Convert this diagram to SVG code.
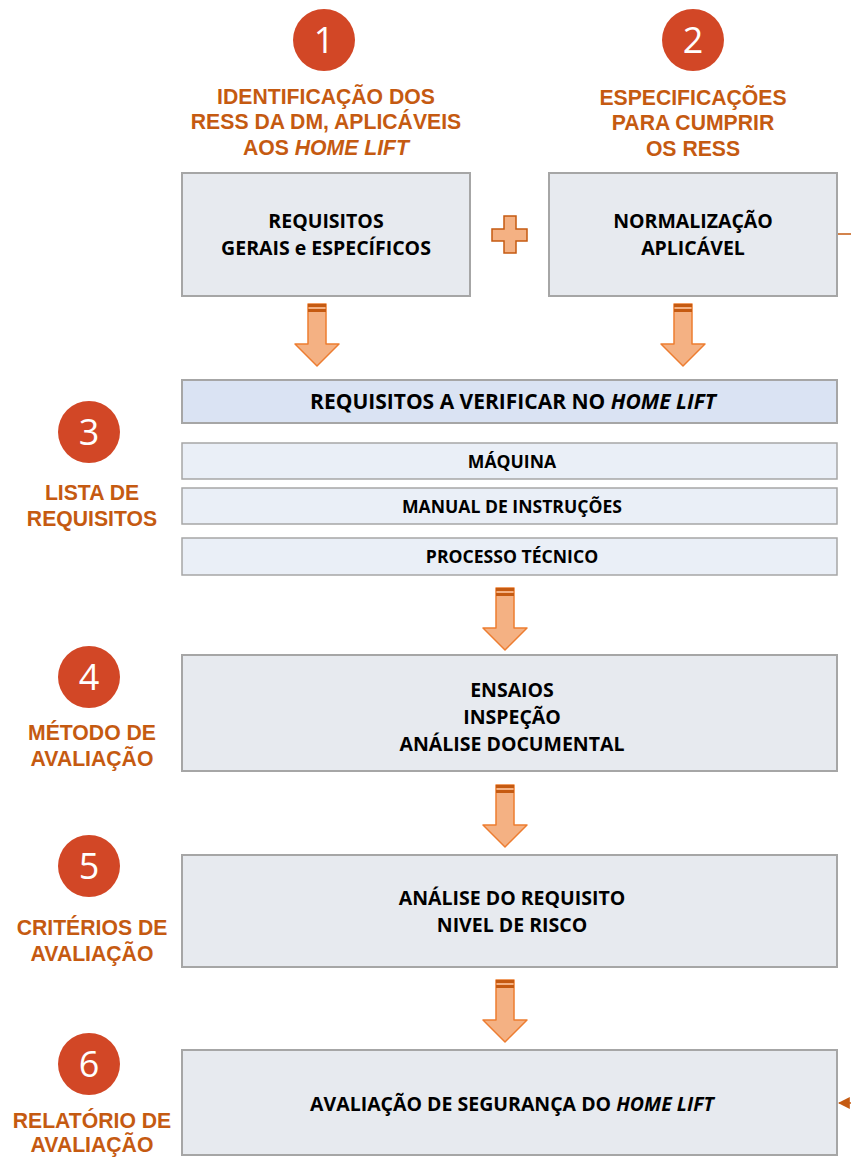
<svg xmlns="http://www.w3.org/2000/svg" width="851" height="1157" viewBox="0 0 851 1157">
<defs>
<style>
.box{fill:#e7eaef;stroke:#a6a6a6;stroke-width:2}
.hdr{fill:#dae3f3;stroke:#a6a6a6;stroke-width:2}
.row{fill:#eaeff7;stroke:#a6a6a6;stroke-width:1.5}
.bt{font-family:"Open Sans","Liberation Sans",sans-serif;font-weight:bold;font-size:19.5px;fill:#000;text-anchor:middle}
.rt{font-family:"Open Sans","Liberation Sans",sans-serif;font-weight:bold;font-size:17.6px;fill:#000;text-anchor:middle}
.ht{font-family:"Open Sans","Liberation Sans",sans-serif;font-weight:bold;font-size:21px;fill:#000;text-anchor:middle}
.ol{font-family:"Liberation Sans",Arial,sans-serif;font-weight:bold;font-size:21.2px;fill:#c55a11;text-anchor:middle}
.cn{fill:#d24726}
.ct{font-family:"Open Sans","Liberation Sans",sans-serif;font-size:36px;fill:#fff;text-anchor:middle}
.arr{fill:#f4b183;stroke:#ed7d31;stroke-width:1.5;stroke-linejoin:round}
.band{fill:#c55a11}
</style>
<g id="barrow">
<polygon class="arr" points="-9,0 9,0 9,40 22,40 0,62 -22,40 -9,40"/>
<rect class="band" x="-9" y="0" width="18" height="3"/>
<rect class="band" x="-9" y="5" width="18" height="3"/>
</g>
<marker id="mk" viewBox="0 0 10 10" refX="9" refY="5" markerWidth="8" markerHeight="8" orient="auto"><path d="M0,0 L10,5 L0,10 z" fill="#c55a11"/></marker>
</defs>
<rect width="851" height="1157" fill="#fff"/>

<g id="step1">
<circle class="cn" cx="324" cy="40" r="31"/>
<text class="ct" x="324" y="53">1</text>
<text class="ol" x="326" y="104">IDENTIFICAÇÃO DOS</text>
<text class="ol" x="326" y="129">RESS DA DM, APLICÁVEIS</text>
<text class="ol" x="326" y="155">AOS <tspan font-style="italic">HOME LIFT</tspan></text>
</g>
<g id="step2">
<circle class="cn" cx="693" cy="40" r="31"/>
<text class="ct" x="693" y="53">2</text>
<text class="ol" x="693" y="105">ESPECIFICAÇÕES</text>
<text class="ol" x="693" y="130">PARA CUMPRIR</text>
<text class="ol" x="693" y="156">OS RESS</text>
</g>
<g id="box1">
<rect class="box" x="182" y="173" width="288" height="123"/>
<text class="bt" x="326" y="228">REQUISITOS</text>
<text class="bt" x="326" y="255">GERAIS e ESPECÍFICOS</text>
</g>
<g id="plus">
<path d="M504,216 h12 v13 h11 v12 h-11 v12 h-12 v-12 h-12 v-12 h12 z" fill="#f4b183" stroke="#c55a11" stroke-width="1.5"/>
</g>
<g id="box2">
<rect class="box" x="549" y="173" width="288" height="123"/>
<text class="bt" x="693" y="228">NORMALIZAÇÃO</text>
<text class="bt" x="693" y="255">APLICÁVEL</text>
</g>

<g id="step3">
<circle class="cn" cx="89" cy="432" r="31"/>
<text class="ct" x="89" y="445">3</text>
<text class="ol" x="92" y="500">LISTA DE</text>
<text class="ol" x="92" y="526">REQUISITOS</text>
</g>
<g id="hdr">
<rect class="hdr" x="182" y="380" width="655" height="43"/>
<text class="ht" x="513" y="409">REQUISITOS A VERIFICAR NO <tspan font-style="italic">HOME LIFT</tspan></text>
</g>
<g id="maquina">
<rect class="row" x="182" y="443" width="655" height="36"/>
<text class="rt" x="512" y="468">MÁQUINA</text>
</g>
<g id="manual">
<rect class="row" x="182" y="488" width="655" height="36"/>
<text class="rt" x="512" y="513">MANUAL DE INSTRUÇÕES</text>
</g>
<g id="processo">
<rect class="row" x="182" y="538" width="655" height="37"/>
<text class="rt" x="512" y="563">PROCESSO TÉCNICO</text>
</g>

<g id="step4">
<circle class="cn" cx="89" cy="677" r="31"/>
<text class="ct" x="89" y="690">4</text>
<text class="ol" x="92" y="740">MÉTODO DE</text>
<text class="ol" x="92" y="766">AVALIAÇÃO</text>
</g>
<g id="box4">
<rect class="box" x="182" y="655" width="655" height="116"/>
<text class="bt" x="512" y="697">ENSAIOS</text>
<text class="bt" x="512" y="724">INSPEÇÃO</text>
<text class="bt" x="512" y="751">ANÁLISE DOCUMENTAL</text>
</g>

<g id="step5">
<circle class="cn" cx="89" cy="866" r="31"/>
<text class="ct" x="89" y="879">5</text>
<text class="ol" x="92" y="935">CRITÉRIOS DE</text>
<text class="ol" x="92" y="961">AVALIAÇÃO</text>
</g>
<g id="box5">
<rect class="box" x="182" y="855" width="655" height="112"/>
<text class="bt" x="512" y="905">ANÁLISE DO REQUISITO</text>
<text class="bt" x="512" y="932">NIVEL DE RISCO</text>
</g>

<g id="step6">
<circle class="cn" cx="89" cy="1064" r="31"/>
<text class="ct" x="89" y="1077">6</text>
<text class="ol" x="92" y="1128">RELATÓRIO DE</text>
<text class="ol" x="92" y="1152">AVALIAÇÃO</text>
</g>
<g id="box6">
<rect class="box" x="182" y="1050" width="655" height="105"/>
<text class="bt" x="512" y="1111">AVALIAÇÃO DE SEGURANÇA DO <tspan font-style="italic">HOME LIFT</tspan></text>
</g>

<g id="connectors">
<use href="#barrow" x="317" y="304"/>
<use href="#barrow" x="683" y="304"/>
<use href="#barrow" x="505" y="588"/>
<use href="#barrow" x="505" y="785"/>
<use href="#barrow" x="505" y="980"/>
<line x1="838" y1="234" x2="851" y2="234" stroke="#c55a11" stroke-width="1.5"/>
<line x1="851" y1="1103" x2="839" y2="1103" stroke="#c55a11" stroke-width="1.5" marker-end="url(#mk)"/>
</g>
</svg>
